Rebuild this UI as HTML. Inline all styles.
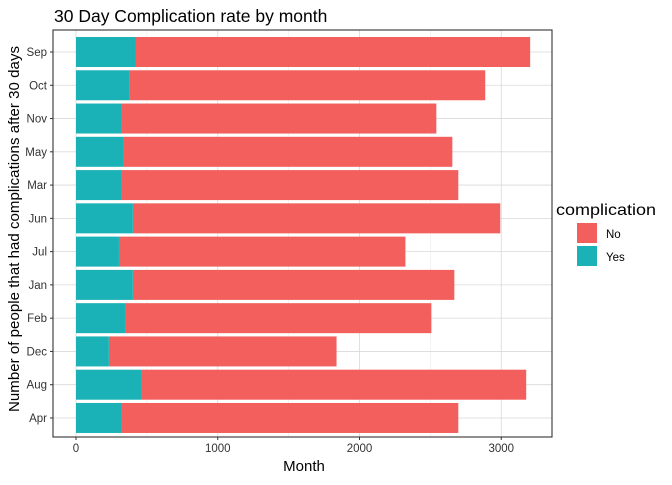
<!DOCTYPE html>
<html><head><meta charset="utf-8"><style>
body{margin:0;background:#fff;font-family:"Liberation Sans",sans-serif}
svg text{font-family:"Liberation Sans",sans-serif}
</style></head><body>
<svg id="c" width="672" height="480" xmlns="http://www.w3.org/2000/svg">
<text x="54" y="22" font-size="17.5" fill="#000">30 Day Complication rate by month</text>
<g id="grid"></g><g id="bars"></g><g id="axes"></g>
<rect x="53" y="30" width="499" height="407" fill="none" stroke="#333" stroke-width="1.1"/>
<text x="304" y="471" font-size="15" text-anchor="middle">Month</text>
<text transform="translate(19,229) rotate(-90)" font-size="15" text-anchor="middle" textLength="366">Number of people that had complications after 30 days</text>
<text x="556" y="215" font-size="16" textLength="100" lengthAdjust="spacingAndGlyphs">complication</text>
<g><rect x="577" y="223" width="20" height="20" fill="#F25F5C"/><text x="606" y="238" font-size="11.5">No</text></g>
<g><rect x="577" y="246" width="20" height="20" fill="#1AB2B6"/><text x="606" y="261" font-size="11.5">Yes</text></g>
</svg>
<script>
const months=["Sep","Oct","Nov","May","Mar","Jun","Jul","Jan","Feb","Dec","Aug","Apr"];
const totals=[3204,2887,2542,2655,2697,2993,2324,2669,2507,1838,3176,2697];
const yes=[423,380,324,338,324,401,303,401,352,232,465,324];
const xTicks=[0,1000,2000,3000];
const NS="http://www.w3.org/2000/svg";
const x=v=>76+v*0.14175;
const y=i=>52+i*33.27;
function mk(t,a,p){const e=document.createElementNS(NS,t);for(const k in a)e.setAttribute(k,a[k]);p.appendChild(e);return e;}
const g=document.getElementById('grid'),b=document.getElementById('bars'),ax=document.getElementById('axes');
[500,1500,2500].forEach(v=>{const l=mk('line',{x1:x(v),x2:x(v),y1:30,y2:437,stroke:'#ebebeb','stroke-width':0.6},g);});
xTicks.forEach(v=>{const l=mk('line',{x1:x(v),x2:x(v),y1:30,y2:437,stroke:'#d9d9d9','stroke-width':0.8},g);
const t=mk('line',{x1:x(v),x2:x(v),y1:437,y2:440,stroke:'#333'},ax);
const tx=mk('text',{x:x(v),y:452,'font-size':11.5,'text-anchor':'middle',fill:'#333'},ax);tx.textContent=v;});
months.forEach((m,i)=>{const l=mk('line',{x1:53,x2:552,y1:y(i),y2:y(i),stroke:'#d9d9d9','stroke-width':0.8},g);
const r=mk('rect',{x:x(yes[i]),y:y(i)-15,width:x(totals[i])-x(yes[i]),height:30,fill:'#F25F5C'},b);
const r2=mk('rect',{x:x(0),y:y(i)-15,width:x(yes[i])-x(0),height:30,fill:'#1AB2B6'},b);
const t=mk('line',{x1:50,x2:53,y1:y(i),y2:y(i),stroke:'#333'},ax);
const tx=mk('text',{x:47,y:y(i)+4,'font-size':11.5,'text-anchor':'end',fill:'#333'},ax);tx.textContent=m;});
</script>
</body></html>
